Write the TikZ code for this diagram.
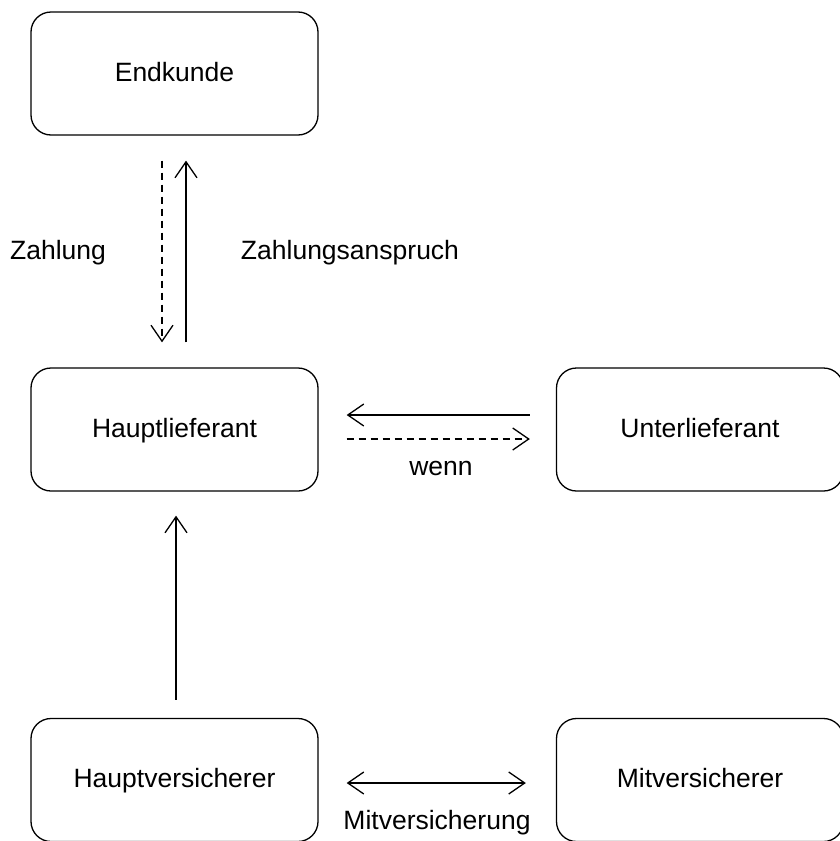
\documentclass[tikz,border=0pt]{standalone}
\usepackage{fontspec}
\setmainfont{Liberation Sans}
\usetikzlibrary{arrows.meta,calc}
\begin{document}
\begin{tikzpicture}[x=1pt,y=-1pt,
  box/.style={draw,line width=1.3pt,rounded corners=20pt,minimum width=287pt,minimum height=123pt,inner sep=0pt,text height=19pt,text depth=4pt,font=\fontsize{26.5}{30}\selectfont},
  lbl/.style={font=\fontsize{26.5}{30}\selectfont,inner sep=0pt},
  barb/.tip={Straight Barb[length=16pt,width=22pt,line width=1.3pt]},
  arr/.style={line width=1.3pt,-barb},
  darr/.style={arr,dash pattern=on 7pt off 5pt},
  dbl/.style={line width=1.3pt,barb-barb}]
\useasboundingbox (0,0) rectangle (840,841);
\node[box] (ek) at (174.5,73.5) {Endkunde};
\node[box] (hl) at (174.5,429.5) {Hauptlieferant};
\node[box] (ul) at (700,429.5) {Unterlieferant};
\node[box] (hv) at (174.5,780) {Hauptversicherer};
\node[box] (mv) at (700,780) {Mitversicherer};
\node[lbl] (z1) at (58,253) {Zahlung};
\node[lbl] (z2) at (350,253) {Zahlungsanspruch};
\node[lbl] (w) at (441,468) {wenn};
\node[lbl] (m) at (437,823) {Mitversicherung};
\draw[darr] ($(ek.south)+(-12.5,25)$) -- ($(hl.north)+(-12.5,-25)$);
\draw[arr] ($(hl.north)+(11.5,-25)$) -- ($(ek.south)+(11.5,25)$);
\draw[arr] ($(ul.west)+(-26,-14.5)$) -- ($(hl.east)+(28,-14.5)$);
\draw[darr] ($(hl.east)+(28,9.5)$) -- ($(ul.west)+(-26,9.5)$);
\draw[arr] ($(hv.north)+(1.5,-18)$) -- ($(hl.south)+(1.5,24)$);
\draw[dbl] ($(hv.east)+(28,3)$) -- ($(mv.west)+(-30,3)$);
\end{tikzpicture}
\end{document}
